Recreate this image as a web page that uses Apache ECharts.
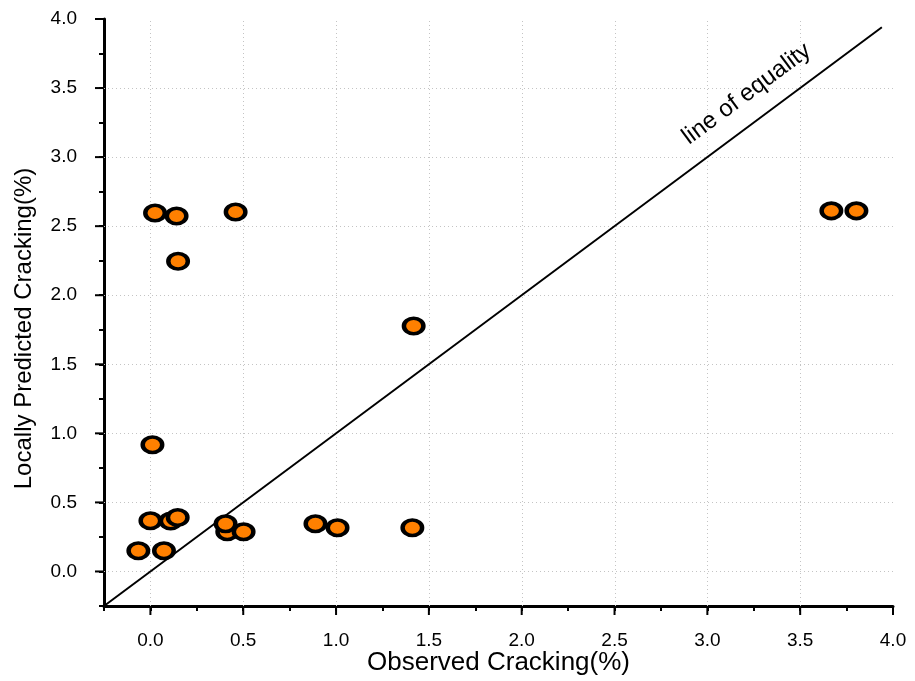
<!DOCTYPE html>
<html>
<head>
<meta charset="utf-8">
<script src="https://cdn.jsdelivr.net/npm/echarts@6/dist/echarts.min.js"></script>
<style>
html,body{margin:0;padding:0;background:#fff;}
#chart{width:915px;height:681px;}
</style>
</head>
<body>
<div id="chart"></div>
<script>
// ---- data ----
const observed  = [-0.065, 0.073, 0.000, 0.109, 0.147, 0.011, 0.025, 0.141, 0.149, 0.459, 0.414, 0.502, 0.405, 0.889, 1.008, 1.411, 1.418, 3.668, 3.803];
const predicted = [ 0.150, 0.150, 0.367, 0.365, 0.391, 0.917, 2.596, 2.574, 2.246, 2.603, 0.288, 0.288, 0.345, 0.345, 0.316, 0.316, 1.777, 2.611, 2.611];
const majorTicks = [0.0, 0.5, 1.0, 1.5, 2.0, 2.5, 3.0, 3.5, 4.0];
const gridValues = [0.0, 0.5, 1.0, 1.5, 2.0, 2.5, 3.0, 3.5];
const equalityLine = [-0.25, 3.94];
const equalityLabel = 'line of equality';
const equalityLabelAt = [3.212, 3.457];
const xTitle = 'Observed Cracking(%)';
const yTitle = 'Locally Predicted Cracking(%)';

const FONT = 'Liberation Sans, Arial, sans-serif';
const AXMIN = -0.25, AXMAX = 4;
const points = observed.map((x, i) => [x, predicted[i]]);

const isMajor = v => Math.abs(v * 2 - Math.round(v * 2)) < 1e-6;

function axis(isX) {
  return {
    type: 'value', min: AXMIN, max: AXMAX, interval: 0.25,
    position: isX ? 'bottom' : 'left',
    name: isX ? xTitle : yTitle,
    nameLocation: 'middle',
    nameMoveOverlap: false,
    nameGap: isX ? 44 : 68,
    nameTextStyle: isX
      ? {fontFamily: FONT, fontSize: 26, color: '#000'}
      : {fontFamily: FONT, fontSize: 24, color: '#000', padding: [0, 32, 0, 0]},
    axisLine: {show: true, onZero: false, lineStyle: {color: '#000', width: 3}},
    axisTick: {show: true, length: 5, lineStyle: {color: '#000', width: 2}},
    axisLabel: {show: true, margin: isX ? 25 : 27, showMinLabel: true, showMaxLabel: true,
      hideOverlap: false, interval: 0,
      fontFamily: FONT, fontSize: 19, color: '#000',
      formatter: v => isMajor(v) ? Number(v).toFixed(1) : ''},
    splitLine: {show: false},
    minorTick: {show: false}
  };
}

const chart = echarts.init(document.getElementById('chart'));
chart.setOption({
  animation: false,
  backgroundColor: '#fff',
  grid: {left: 104, right: 22, top: 19, bottom: 75, containLabel: false, outerBoundsMode: 'none'},
  xAxis: axis(true),
  yAxis: axis(false),
  series: [
    { // dotted grid lines at the major ticks
      type: 'custom', silent: true, clip: false, z: 1,
      data: gridValues.map(v => [v]),
      renderItem: (params, api) => {
        const v = api.value(0);
        const vb = api.coord([v, AXMIN]), vt = api.coord([v, AXMAX]);
        const hl = api.coord([AXMIN, v]), hr = api.coord([AXMAX, v]);
        const style = {stroke: '#c4c4c4', lineWidth: 1, lineDash: [1, 3], fill: null};
        return {type: 'group', children: [
          {type: 'line', shape: {x1: Math.round(vb[0]) + 0.5, y1: vb[1], x2: Math.round(vt[0]) + 0.5, y2: vt[1]}, style},
          {type: 'line', shape: {x1: hl[0], y1: Math.round(hl[1]) + 0.5, x2: hr[0], y2: Math.round(hr[1]) + 0.5}, style}
        ]};
      }
    },
    { // long major ticks
      type: 'custom', silent: true, clip: false, z: 6,
      data: majorTicks.map(v => [v]),
      renderItem: (params, api) => {
        const v = api.value(0);
        const xb = api.coord([v, AXMIN]);
        const yl = api.coord([AXMIN, v]);
        const style = {stroke: '#000', lineWidth: 2, fill: null};
        return {type: 'group', children: [
          {type: 'line', shape: {x1: xb[0], y1: xb[1], x2: xb[0], y2: xb[1] + 9}, style},
          {type: 'line', shape: {x1: yl[0], y1: yl[1], x2: yl[0] - 9, y2: yl[1]}, style}
        ]};
      }
    },
    {
      type: 'line', silent: true,
      data: equalityLine.map(v => [v, v]),
      symbol: 'none', lineStyle: {color: '#000', width: 2}, z: 2
    },
    { // annotation text along the line of equality
      type: 'custom', silent: true, clip: false, z: 3,
      data: [equalityLabelAt],
      renderItem: (params, api) => {
        const p = api.coord([api.value(0), api.value(1)]);
        return {
          type: 'text', x: p[0], y: p[1], rotation: 36.6 * Math.PI / 180,
          style: {text: equalityLabel, fill: '#000', fontFamily: FONT, fontSize: 24,
            align: 'center', verticalAlign: 'middle'}
        };
      }
    },
    {
      type: 'scatter',
      data: points,
      symbol: 'circle', symbolSize: [19.5, 15.5],
      itemStyle: {color: '#FF8000', borderColor: '#000', borderWidth: 4, opacity: 1},
      z: 5
    }
  ]
});
</script>
</body>
</html>
